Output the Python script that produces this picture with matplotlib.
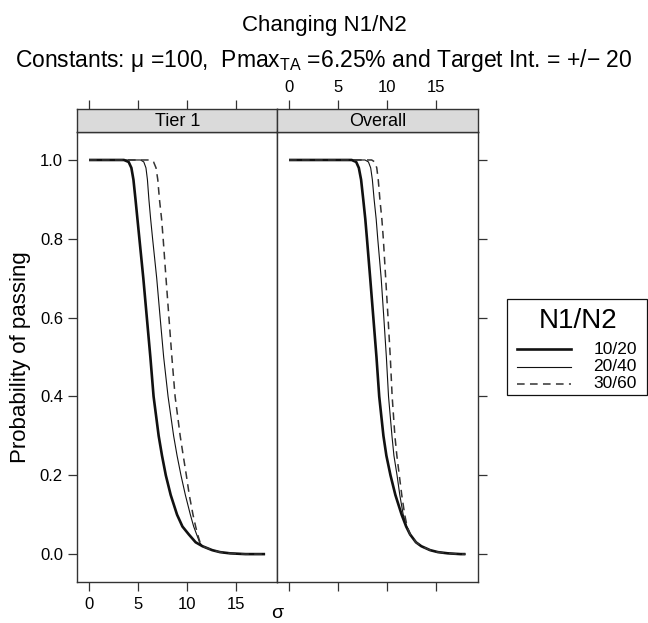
import numpy as np
import matplotlib.pyplot as plt
from matplotlib.lines import Line2D
from matplotlib.patches import Rectangle

plt.rcParams['font.family'] = ['Liberation Sans', 'DejaVu Sans']
plt.rcParams['mathtext.fontset'] = 'custom'
plt.rcParams['mathtext.rm'] = 'Liberation Sans'

p_levels = [1.0, 1.0, 0.995, 0.98, 0.95, 0.9, 0.85, 0.8, 0.7, 0.6, 0.5,
            0.4, 0.3, 0.25, 0.2, 0.15, 0.1, 0.07, 0.05, 0.03, 0.02, 0.01,
            0.005, 0.002, 0.0, 0.0]

panels = ['Tier 1', 'Overall']
series = ['10/20', '20/40', '30/60']

tier1_10_20 = [0, 3.57, 4.05, 4.33, 4.54, 4.75, 4.95, 5.15, 5.55, 5.91, 6.27,
               6.60, 7.12, 7.46, 7.85, 8.35, 9.0, 9.55, 10.2, 10.9, 11.6,
               12.6, 13.4, 14.4, 16.0, 18.0]
tier1_20_40 = [0, 5.27, 5.6, 5.82, 5.97, 6.12, 6.3, 6.5, 6.92, 7.27, 7.63,
               8.08, 8.65, 9.0, 9.4, 9.85, 10.36, 10.7, 11.0, 11.3, 11.6,
               12.6, 13.4, 14.4, 16.0, 18.0]
tier1_30_60 = [0, 6.28, 6.6, 6.85, 7.03, 7.2, 7.42, 7.58, 7.87, 8.17, 8.47,
               8.8, 9.32, 9.63, 9.95, 10.25, 10.63, 10.9, 11.1, 11.35, 11.6,
               12.6, 13.4, 14.4, 16.0, 18.0]

overall_10_20 = [0, 6.39, 6.85, 7.12, 7.35, 7.57, 7.78, 7.95, 8.28, 8.6, 8.92,
                 9.2, 9.63, 9.93, 10.35, 10.85, 11.49, 11.95, 12.35, 12.95,
                 13.5, 14.4, 15.2, 16.2, 17.5, 18.0]
overall_20_40 = [0, 7.75, 8.1, 8.33, 8.5, 8.68, 8.89, 9.05, 9.4, 9.67, 9.93,
                 10.15, 10.5, 10.7, 11.02, 11.3, 11.65, 12.0, 12.35, 12.95,
                 13.5, 14.4, 15.2, 16.2, 17.5, 18.0]
overall_30_60 = [0, 8.43, 8.75, 8.95, 9.1, 9.27, 9.47, 9.62, 9.86, 10.1, 10.33,
                 10.52, 10.8, 11.0, 11.25, 11.5, 11.8, 12.05, 12.35, 12.95,
                 13.5, 14.4, 15.2, 16.2, 17.5, 18.0]

sigmas = {
    'Tier 1': [tier1_10_20, tier1_20_40, tier1_30_60],
    'Overall': [overall_10_20, overall_20_40, overall_30_60],
}

x_ticks = [0, 5, 10, 15]
y_ticks = [0.0, 0.2, 0.4, 0.6, 0.8, 1.0]

styles = [dict(color='#111111', lw=1.9, ls='-'),
          dict(color='#111111', lw=0.8, ls='-'),
          dict(color='#333333', lw=1.1, ls=(0, (5, 3.5)))]

W, H = 648, 623
fig = plt.figure(figsize=(W / 100, H / 100), dpi=100)

frame_col = '#333333'
left, mid, right = 77.3, 277.3, 477.7
top, bottom = 132.0, 581.7
strip_top = 109.3
xlim = (-1.2, 19.25)
ylim = (-0.07, 1.071)


def fx(px):
    return px / W


def fy(py):
    return 1 - py / H


tick_kw = dict(length=6.8, width=0.9, color=frame_col, labelsize=12)

for i, name in enumerate(panels):
    x0 = left if i == 0 else mid
    x1 = mid if i == 0 else right
    ax = fig.add_axes([fx(x0), fy(bottom), fx(x1 - x0), (bottom - top) / H])
    for s, st in zip(sigmas[name], styles):
        ax.plot(s, p_levels, solid_capstyle='butt', solid_joinstyle='round',
                **st)
    ax.set_xlim(*xlim)
    ax.set_ylim(*ylim)
    ax.set_xticks(x_ticks)
    ax.set_yticks(y_ticks)
    ax.yaxis.set_major_formatter(plt.FormatStrFormatter('%.1f'))
    ax.tick_params(axis='x', direction='out', pad=4.5, **tick_kw)
    ax.tick_params(axis='y', direction='out', pad=3.5, **tick_kw)
    if i == 0:
        ax.tick_params(labelbottom=True, left=True, labelleft=True,
                       right=False)
    else:
        ax.tick_params(labelbottom=False, left=False, labelleft=False,
                       right=True, labelright=False)
    for sp in ax.spines.values():
        sp.set_color(frame_col)
        sp.set_linewidth(1.0)

    # strip on top
    st_ax = fig.add_axes([fx(x0), fy(top), fx(x1 - x0), (top - strip_top) / H])
    st_ax.set_facecolor('#dadada')
    st_ax.set_xlim(*xlim)
    st_ax.set_ylim(0, 1)
    st_ax.set_yticks([])
    st_ax.set_xticks(x_ticks)
    st_ax.xaxis.set_ticks_position('top')
    st_ax.tick_params(axis='x', direction='out', pad=3.5, **tick_kw)
    st_ax.tick_params(labeltop=(i == 1), labelbottom=False, bottom=False)
    for sp in st_ax.spines.values():
        sp.set_color(frame_col)
        sp.set_linewidth(1.0)
    st_ax.text(0.5, 0.45, name, transform=st_ax.transAxes, ha='center',
               va='center', fontsize=13)

fig.text(0.5, fy(25), 'Changing N1/N2', ha='center', va='center', fontsize=16)
fig.text(0.5, fy(60),
         r'Constants: μ =100,  Pmax$_{\mathrm{TA}}$ =6.25% and Target Int. = +/− 20',
         ha='center', va='center', fontsize=16.5)
fig.text(fx(21), fy((top + bottom) / 2), 'Probability of passing',
         rotation=90, ha='center', va='center', fontsize=16)
fig.text(fx(277), fy(622), 'σ', ha='center', va='bottom', fontsize=14)

# key
box_l, box_t, box_r, box_b = 506.7, 299.3, 647.0, 395.0
fig.patches.append(Rectangle((fx(box_l), fy(box_b)), fx(box_r - box_l),
                             (box_b - box_t) / H, transform=fig.transFigure,
                             fill=False, edgecolor='#111111', lw=0.9))
fig.text(fx(578), fy(321), 'N1/N2', ha='center', va='center', fontsize=20)
row_y = [349.0, 366.5, 383.5]
for lab, st, ry in zip(series, styles, row_y):
    fig.lines.append(Line2D([fx(516.7), fx(570.7)], [fy(ry), fy(ry)],
                            transform=fig.transFigure, **st))
    fig.text(fx(637), fy(ry), lab, ha='right', va='center', fontsize=12.5)

fig.savefig('out.png', dpi=100)
